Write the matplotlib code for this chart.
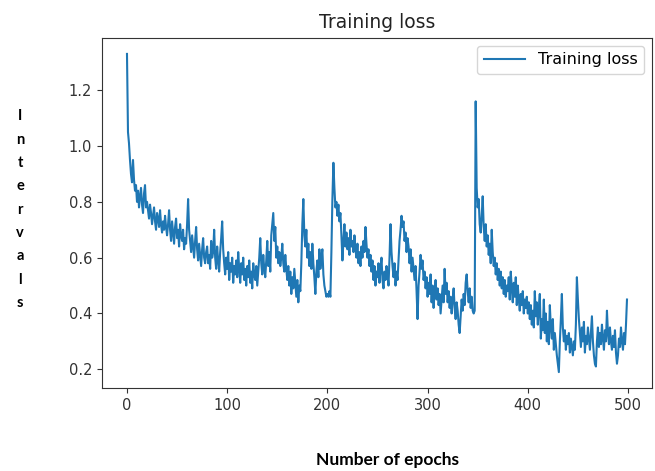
import matplotlib
matplotlib.use("Agg")
import matplotlib.pyplot as plt

# training loss per epoch (20 values per row)
loss = [
    1.33, 1.05, 1.01, 0.95, 0.90, 0.87, 0.95, 0.88, 0.84, 0.86, 0.80, 0.84, 0.78, 0.82, 0.85, 0.79, 0.76, 0.83, 0.86, 0.78,
    0.80, 0.77, 0.74, 0.79, 0.76, 0.72, 0.75, 0.78, 0.73, 0.70, 0.76, 0.74, 0.71, 0.77, 0.72, 0.69, 0.73, 0.70, 0.75, 0.71,
    0.68, 0.72, 0.77, 0.70, 0.66, 0.73, 0.69, 0.65, 0.71, 0.74, 0.67, 0.70, 0.64, 0.72, 0.68, 0.66, 0.70, 0.63, 0.67, 0.65,
    0.72, 0.81, 0.70, 0.66, 0.62, 0.68, 0.64, 0.60, 0.66, 0.71, 0.63, 0.59, 0.65, 0.61, 0.57, 0.63, 0.67, 0.60, 0.58, 0.62,
    0.64, 0.58, 0.61, 0.56, 0.66, 0.60, 0.62, 0.70, 0.60, 0.56, 0.64, 0.59, 0.55, 0.62, 0.67, 0.73, 0.63, 0.58, 0.54, 0.60,
    0.56, 0.62, 0.52, 0.58, 0.55, 0.60, 0.51, 0.57, 0.54, 0.59, 0.53, 0.62, 0.56, 0.51, 0.58, 0.54, 0.60, 0.52, 0.56, 0.50,
    0.57, 0.53, 0.59, 0.51, 0.55, 0.49, 0.58, 0.54, 0.52, 0.57, 0.50, 0.55, 0.60, 0.67, 0.58, 0.54, 0.61, 0.56, 0.53, 0.59,
    0.66, 0.57, 0.62, 0.55, 0.68, 0.72, 0.76, 0.66, 0.71, 0.60, 0.64, 0.58, 0.62, 0.57, 0.60, 0.65, 0.58, 0.55, 0.61, 0.56,
    0.52, 0.57, 0.50, 0.55, 0.47, 0.53, 0.49, 0.56, 0.51, 0.46, 0.52, 0.44, 0.50, 0.48, 0.58, 0.72, 0.81, 0.68, 0.64, 0.70,
    0.60, 0.65, 0.57, 0.62, 0.56, 0.65, 0.58, 0.53, 0.47, 0.55, 0.59, 0.53, 0.63, 0.56, 0.60, 0.63, 0.54, 0.50, 0.48, 0.46,
    0.47, 0.46, 0.48, 0.46, 0.62, 0.81, 0.94, 0.85, 0.78, 0.80, 0.75, 0.79, 0.73, 0.76, 0.68, 0.59, 0.66, 0.72, 0.64, 0.69,
    0.63, 0.67, 0.61, 0.70, 0.64, 0.66, 0.62, 0.68, 0.63, 0.60, 0.65, 0.58, 0.62, 0.57, 0.64, 0.60, 0.66, 0.62, 0.71, 0.65,
    0.60, 0.63, 0.57, 0.61, 0.55, 0.59, 0.52, 0.57, 0.50, 0.55, 0.53, 0.58, 0.51, 0.56, 0.60, 0.52, 0.49, 0.55, 0.52, 0.57,
    0.54, 0.50, 0.60, 0.72, 0.62, 0.57, 0.53, 0.58, 0.50, 0.55, 0.52, 0.59, 0.66, 0.70, 0.75, 0.71, 0.73, 0.66, 0.69, 0.62,
    0.67, 0.64, 0.58, 0.63, 0.55, 0.60, 0.56, 0.52, 0.57, 0.48, 0.38, 0.50, 0.55, 0.61, 0.56, 0.59, 0.52, 0.55, 0.49, 0.53,
    0.46, 0.51, 0.47, 0.54, 0.44, 0.50, 0.42, 0.48, 0.52, 0.45, 0.49, 0.43, 0.47, 0.40, 0.45, 0.50, 0.44, 0.56, 0.47, 0.51,
    0.44, 0.48, 0.42, 0.46, 0.40, 0.45, 0.49, 0.42, 0.38, 0.44, 0.41, 0.36, 0.33, 0.39, 0.45, 0.41, 0.47, 0.43, 0.51, 0.54,
    0.48, 0.44, 0.49, 0.42, 0.46, 0.41, 0.40, 0.41, 1.16, 0.85, 0.78, 0.81, 0.72, 0.69, 0.75, 0.82, 0.71, 0.66, 0.72, 0.64,
    0.68, 0.61, 0.65, 0.58, 0.70, 0.62, 0.57, 0.60, 0.54, 0.58, 0.52, 0.56, 0.50, 0.55, 0.49, 0.53, 0.47, 0.52, 0.46, 0.50,
    0.48, 0.53, 0.45, 0.55, 0.49, 0.44, 0.51, 0.46, 0.53, 0.43, 0.50, 0.45, 0.41, 0.47, 0.43, 0.48, 0.40, 0.45, 0.42, 0.46,
    0.40, 0.44, 0.38, 0.43, 0.36, 0.41, 0.35, 0.48, 0.39, 0.44, 0.36, 0.42, 0.47, 0.31, 0.38, 0.34, 0.45, 0.33, 0.40, 0.30,
    0.37, 0.29, 0.43, 0.35, 0.31, 0.38, 0.27, 0.33, 0.29, 0.25, 0.22, 0.19, 0.30, 0.38, 0.47, 0.35, 0.30, 0.34, 0.27, 0.32,
    0.29, 0.33, 0.26, 0.31, 0.28, 0.25, 0.30, 0.27, 0.36, 0.53, 0.45, 0.38, 0.33, 0.28, 0.35, 0.30, 0.37, 0.26, 0.32, 0.29,
    0.35, 0.31, 0.27, 0.33, 0.39, 0.30, 0.25, 0.22, 0.21, 0.30, 0.35, 0.28, 0.33, 0.29, 0.36, 0.31, 0.27, 0.34, 0.30, 0.41,
    0.33, 0.29, 0.35, 0.30, 0.27, 0.32, 0.28, 0.34, 0.26, 0.22, 0.25, 0.31, 0.28, 0.35, 0.30, 0.27, 0.33, 0.29, 0.36, 0.45,
]
epochs = list(range(len(loss)))

fig = plt.figure(figsize=(6.55, 4.71), dpi=100)
ax = fig.add_axes([0.1557, 0.1762, 0.8397, 0.7431])

ax.plot(epochs, loss, color="#1f77b4", lw=1.5, label="Training loss")
ax.set_title("Training loss", fontsize=13.5, color="#222222", pad=7)
ax.tick_params(labelsize=10.5, colors="#333333")
for s in ax.spines.values():
    s.set_color("#333333")
ax.legend(loc="upper right", fontsize=11.5, handlelength=2.6)

# axis labels were typed in a bold sans, the y one letter by letter
fig.text(0.031, 0.555, "\n".join("Intervals"), ha="center", va="center",
         fontsize=10.5, fontweight="bold", family="Lato", linespacing=1.85)
fig.text(0.591, 0.023, "Number of epochs", ha="center", va="center",
         fontsize=12.5, fontweight="bold", family="Lato")

fig.savefig("out.png", dpi=100)
